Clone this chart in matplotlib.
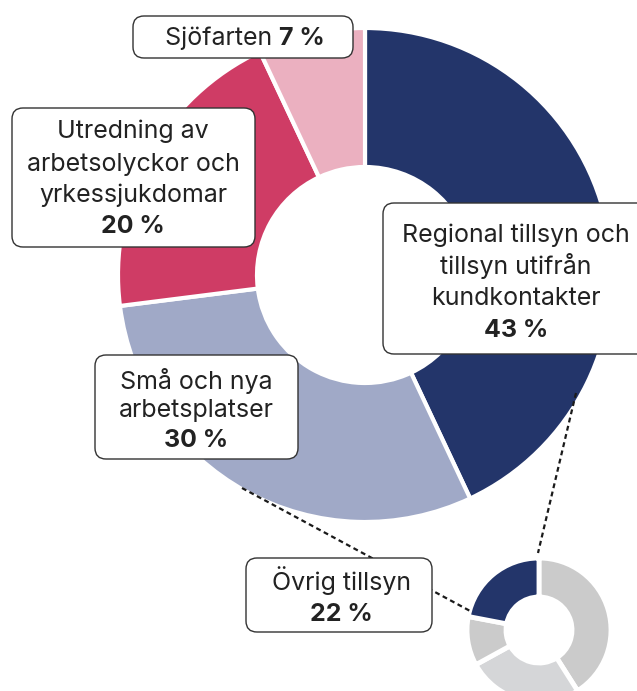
import matplotlib.pyplot as plt
from matplotlib.patches import FancyBboxPatch

plt.rcParams['font.family'] = ['Inter', 'DejaVu Sans']

# huvuddiagram: andel per område (medurs från kl. 12)
labels = ['Regional tillsyn och\ntillsyn utifrån\nkundkontakter',
          'Små och nya\narbetsplatser',
          'Utredning av\narbetsolyckor och\nyrkessjukdomar',
          'Sjöfarten']
shares = [43, 30, 20, 7]
colors = ['#23356a', '#a0a9c7', '#cf3c65', '#ebb0c0']

# litet diagram: uppdelning av regional tillsyn
sub_shares = [41, 26, 11, 22]
sub_colors = ['#cbcbcb', '#d5d6d8', '#cbcbcb', '#23356a']
sub_label = 'Övrig tillsyn'
sub_pct = 22

W, H = 637, 691
FS = 18
fig = plt.figure(figsize=(W / 100, H / 100), dpi=100)
ax = fig.add_axes([0, 0, 1, 1])


def Y(y):
    # pixelrad uppifrån -> datakoordinat
    return H - y


ax.pie(shares, colors=colors, startangle=90, counterclock=False,
       center=(365, Y(275)), radius=247,
       wedgeprops=dict(width=139, edgecolor='white', linewidth=3))
ax.pie(sub_shares, colors=sub_colors, startangle=90, counterclock=False,
       center=(539, Y(630)), radius=72,
       wedgeprops=dict(width=39, edgecolor='white', linewidth=3.5))

# streckade linjer mellan diagrammen
for (x0, y0), (x1, y1) in [((576, 393), (538, 553)), ((242, 488), (472, 612))]:
    ax.plot([x0, x1], [Y(y0), Y(y1)], color='#1a1a1a', lw=1.6,
            linestyle=(0, (2.2, 1.6)), zorder=3)


def box(x0, y0, x1, y1):
    p = FancyBboxPatch((x0, Y(y1)), x1 - x0, y1 - y0,
                       boxstyle='round,pad=0,rounding_size=11',
                       facecolor='white', edgecolor='#333333', lw=1.0, zorder=4)
    ax.add_patch(p)


def lines(cx, baselines, text, pct):
    parts = text.split('\n')
    for t, b in zip(parts, baselines[:-1]):
        ax.text(cx, Y(b), t, ha='center', va='baseline', fontsize=FS,
                color='#222222', zorder=5)
    ax.text(cx, Y(baselines[-1]), f'{pct} %', ha='center', va='baseline',
            fontsize=FS, fontweight='bold', color='#222222', zorder=5)


box(383, 203, 650, 354)
lines(516, [242, 274, 305, 337], labels[0], shares[0])

box(95, 355, 298, 459)
lines(196, [389, 417, 447], labels[1], shares[1])

box(12, 108, 255, 247)
lines(133, [138, 171, 202, 233], labels[2], shares[2])

box(133, 16, 353, 58)
ax.text(279, Y(45), labels[3] + ' ', ha='right', va='baseline', fontsize=FS,
        color='#222222', zorder=5)
ax.text(279, Y(45), f'{shares[3]} %', ha='left', va='baseline', fontsize=FS,
        fontweight='bold', color='#222222', zorder=5)

box(246, 558, 432, 632)
lines(341, [590, 621], sub_label, sub_pct)

ax.set_xlim(0, W)
ax.set_ylim(0, H)
ax.set_aspect('equal')
ax.axis('off')

fig.savefig('out.png', dpi=100)
